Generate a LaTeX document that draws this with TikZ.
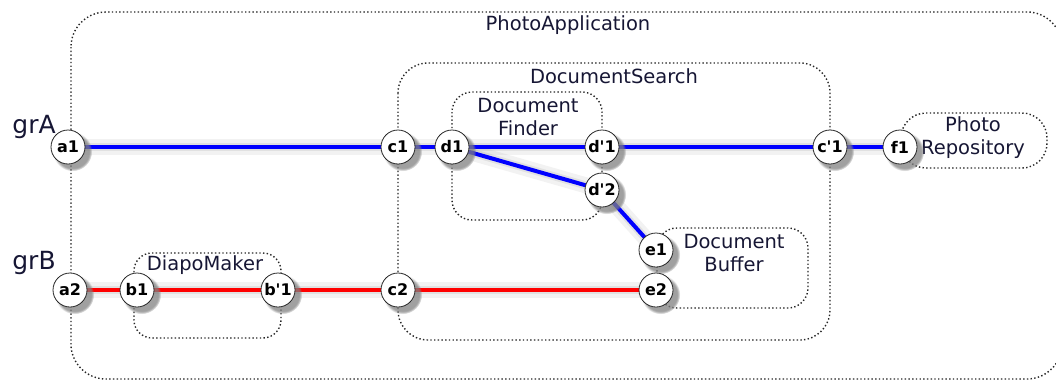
\documentclass[tikz,border=0pt]{standalone}
\usepackage{fontspec}
\setmainfont{DejaVu Sans}
\newfontfamily\nodefnt{DejaVu Sans}[Ligatures=ResetAll]
\usetikzlibrary{shadows}
\definecolor{lbl}{RGB}{22,22,52}
\definecolor{bl}{RGB}{0,0,255}
\definecolor{rd}{RGB}{255,0,0}
\tikzset{
  grp/.style={draw=black!85, line width=1.4pt, dash pattern=on 1.4pt off 2.3pt},
  grplbl/.style={text=lbl, font=\fontsize{19.5}{23}\selectfont, align=center, inner sep=0pt},
  port/.style={circle, draw=black!85, line width=0.8pt, fill=white, minimum size=34pt, inner sep=0pt,
    font=\nodefnt\bfseries\fontsize{16}{17}\selectfont,
    circular drop shadow={shadow xshift=4pt, shadow yshift=-4pt, opacity=0.75, shadow scale=1.15}},
  blueline/.style={draw=bl, line width=4pt},
  redline/.style={draw=rd, line width=4pt},
  lineshadow/.style={draw=black, line width=16pt, opacity=0.05, line cap=round},
  lineshadowb/.style={draw=black, line width=8pt, opacity=0.07, line cap=round},
  rowlbl/.style={text=lbl, font=\fontsize{25}{28}\selectfont, inner sep=0pt}
}
\begin{document}
\begin{tikzpicture}[x=1pt,y=-1pt]
\useasboundingbox (0,0) rectangle (1056,380);
% groups
\draw[grp, rounded corners=35pt] (71,12) rectangle (1062,379);
\node[grplbl] (lPA) at (568,25) {PhotoApplication};
\draw[grp, rounded corners=30pt] (398,63) rectangle (830,340);
\node[grplbl] (lDS) at (614,76) {DocumentSearch};
\draw[grp, rounded corners=20pt] (452,92) rectangle (602,220);
\node[grplbl] (lDF) at (528,117) {Document\\Finder};
\draw[grp, rounded corners=20pt] (657,228) rectangle (808,308);
\node[grplbl] (lDB) at (734,253) {Document\\Buffer};
\draw[grp, rounded corners=18pt] (134,253) rectangle (281,338);
\node[grplbl] (lDM) at (205,265) {DiapoMaker};
\draw[grp, rounded corners=25pt] (901,113) rectangle (1047,168);
\node[grplbl] (lPR) at (973,138) {Photo\\Repository};
% row labels
\node[rowlbl] (grA) at (34,127) {grA};
\node[rowlbl] (grB) at (34,263) {grB};
% nodes coordinates
\coordinate (A1) at (68,147);
\coordinate (A2) at (70,290);
\coordinate (B1) at (137,290);
\coordinate (BB1) at (278,290);
\coordinate (C1) at (398,147);
\coordinate (C2) at (398,290);
\coordinate (D1) at (452,147);
\coordinate (DD1) at (602,147);
\coordinate (DD2) at (602,190);
\coordinate (E1) at (656,250);
\coordinate (E2) at (656,290);
\coordinate (CC1) at (830,147);
\coordinate (F1) at (900,147);
% line shadows
\begin{scope}[yshift=-7pt]
\draw[lineshadow] (A1) -- (F1);
\draw[lineshadow] (D1) -- (DD2) -- (E1);
\draw[lineshadow] (A2) -- (E2);
\draw[lineshadowb] (A1) -- (F1);
\draw[lineshadowb] (D1) -- (DD2) -- (E1);
\draw[lineshadowb] (A2) -- (E2);
\end{scope}
% connectors
\draw[blueline] (A1) -- (C1) -- (D1) -- (DD1) -- (CC1) -- (F1);
\draw[blueline] (D1) -- (DD2) -- (E1);
\draw[redline] (A2) -- (B1) -- (BB1) -- (C2) -- (E2);
% ports
\node[port] (a1) at (A1) {a1};
\node[port] (a2) at (A2) {a2};
\node[port] (b1) at (B1) {b1};
\node[port] (bb1) at (BB1) {b\textquotesingle1};
\node[port] (c1) at (C1) {c1};
\node[port] (c2) at (C2) {c2};
\node[port] (d1) at (D1) {d1};
\node[port] (dd1) at (DD1) {d\textquotesingle1};
\node[port] (dd2) at (DD2) {d\textquotesingle2};
\node[port] (e1) at (E1) {e1};
\node[port] (e2) at (E2) {e2};
\node[port] (cc1) at (CC1) {c\textquotesingle1};
\node[port] (f1) at (F1) {f1};
\end{tikzpicture}
\end{document}
